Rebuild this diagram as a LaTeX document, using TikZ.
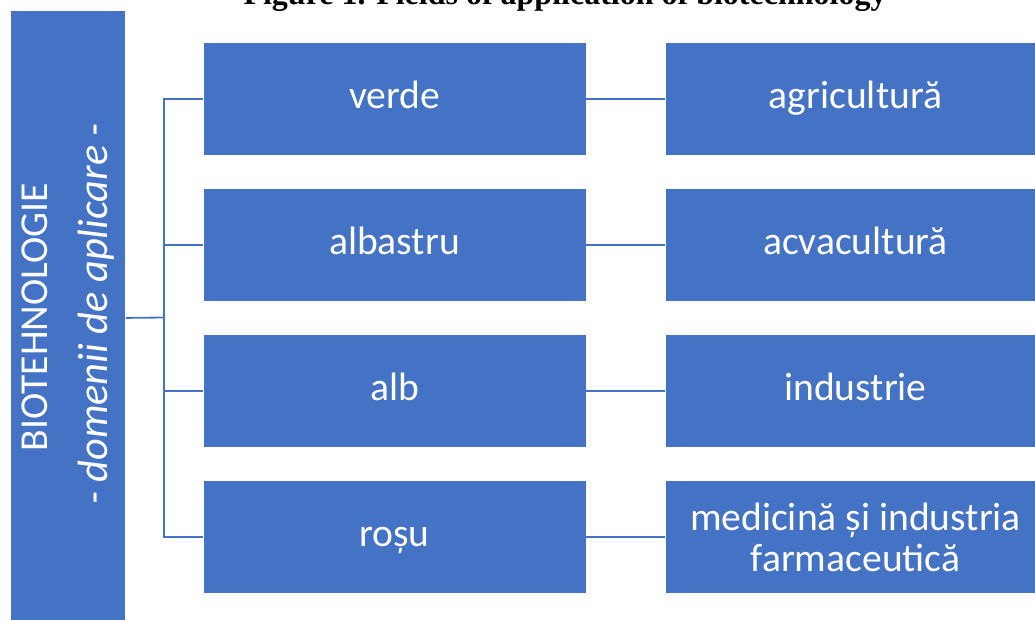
\documentclass[tikz,border=0pt]{standalone}
\usepackage{fontspec}
\setmainfont{Carlito}
\newfontfamily\titlefont{Liberation Serif}
\definecolor{obl}{HTML}{4472C4}
\begin{document}
\begin{tikzpicture}[x=1pt,y=-1pt,
  box/.style={fill=obl, draw=white, line width=0.8pt, text=white,
    font=\fontsize{39.6}{41}\selectfont, inner sep=0pt},
  lbl/.style={text height=28pt, text depth=9pt},
  midbox/.style={box, lbl, minimum width=383pt, minimum height=113pt},
  rightbox/.style={box, minimum width=381pt, minimum height=113pt},
  vtext/.style={rotate=90, anchor=base, text=white, font=\fontsize{39.6}{41}\selectfont},
  conn/.style={draw=obl, line width=1.8pt}]
\useasboundingbox (0,0) rectangle (1035,619);
\clip (0,0) rectangle (1035,619);
\node[font=\titlefont\bfseries\fontsize{32}{38}\selectfont, anchor=base, inner sep=0pt] (title) at (565,4) {Figure 1. Fields of application of biotechnology};
\node[box, minimum width=115pt, minimum height=615pt, anchor=north west] (root) at (10,10) {};
\node[vtext] (t1) at (47,317) {BIOTEHNOLOGIE};
\node[vtext, font=\fontsize{42.4}{44}\selectfont\itshape] (t2) at (107,314) {- domenii de aplicare -};
\node[midbox] (m1) at (394.5,99) {verde};
\node[midbox] (m2) at (394.5,245) {albastru};
\node[midbox] (m3) at (394.5,391) {alb};
\node[midbox] (m4) at (394.5,537) {roșu};
\node[rightbox, lbl] (r1) at (855.5,99) {agricultură};
\node[rightbox, lbl] (r2) at (855.5,245) {acvacultură};
\node[rightbox, lbl] (r3) at (855.5,391) {industrie};
\node[rightbox, align=center] (r4) at (855.5,537) {medicină și industria\\farmaceutică};
\coordinate (bus) at (164,317.5);
\draw[conn] (root.east) -- (bus);
\draw[conn] (m1.west) -- (m1.west -| bus) -- (m4.west -| bus) -- (m4.west);
\draw[conn] (m2.west) -- (m2.west -| bus);
\draw[conn] (m3.west) -- (m3.west -| bus);
\draw[conn] (m1.east) -- (r1.west);
\draw[conn] (m2.east) -- (r2.west);
\draw[conn] (m3.east) -- (r3.west);
\draw[conn] (m4.east) -- (r4.west);
\end{tikzpicture}
\end{document}
